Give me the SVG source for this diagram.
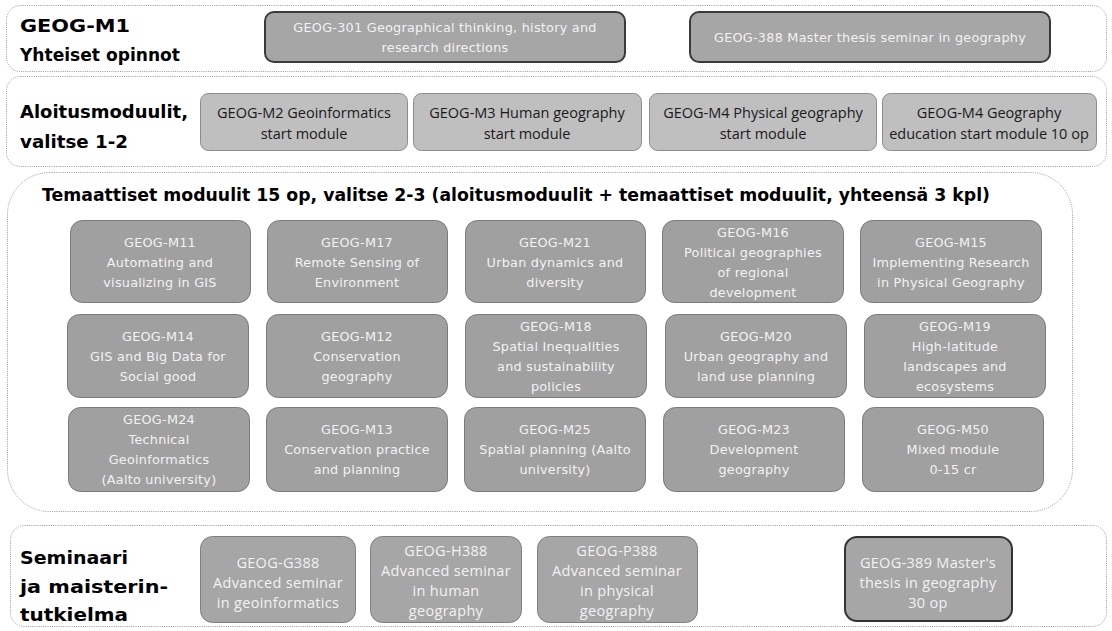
<svg xmlns="http://www.w3.org/2000/svg" width="1112" height="631" viewBox="0 0 1112 631">
<style>
.sec{fill:none;stroke:#9a9a9a;stroke-width:1;stroke-dasharray:1 1.2}
.title{font-family:"DejaVu Sans",sans-serif;font-weight:bold;font-size:18px;fill:#000}
.top{fill:#a6a6a6;stroke:#3a3a3a;stroke-width:2}
.start{fill:#bfbfbf;stroke:#8c8c8c;stroke-width:1}
.mod{fill:#a0a0a0;stroke:#7a7a7a;stroke-width:1}
.sem{fill:#a6a6a6;stroke:#7f7f7f;stroke-width:1}
.thesis{fill:#a6a6a6;stroke:#333;stroke-width:2}
.tg{font-family:"DejaVu Sans",sans-serif;font-size:12.8px;fill:#f2f2f2;text-anchor:middle;letter-spacing:0.25px}
.tc{font-family:"Open Sans",sans-serif;font-size:14.5px;fill:#1a1a1a;text-anchor:middle}
.tw{font-family:"Open Sans",sans-serif;font-size:14.5px;fill:#f2f2f2;text-anchor:middle;letter-spacing:0.3px}
</style>
<g id="connectors"></g>

<g id="sec-m1">
<rect class="sec" x="6.5" y="5.5" width="1100" height="66" rx="14"/>
<text class="title" x="20" y="32" textLength="110" lengthAdjust="spacingAndGlyphs">GEOG-M1</text>
<text class="title" x="20" y="61" textLength="160" lengthAdjust="spacingAndGlyphs">Yhteiset opinnot</text>
</g>
<g id="geog-301">
<rect class="top" x="265" y="12" width="360" height="50" rx="9"/>
<text class="tg" x="445" y="32">GEOG-301 Geographical thinking, history and</text>
<text class="tg" x="445" y="52">research directions</text>
</g>
<g id="geog-388">
<rect class="top" x="690" y="12" width="360" height="50" rx="9"/>
<text class="tg" x="870" y="42">GEOG-388 Master thesis seminar in geography</text>
</g>

<g id="sec-start">
<rect class="sec" x="6.5" y="76.5" width="1100" height="90" rx="14"/>
<text class="title" x="20" y="118" textLength="168" lengthAdjust="spacingAndGlyphs">Aloitusmoduulit,</text>
<text class="title" x="20" y="148" textLength="108" lengthAdjust="spacingAndGlyphs">valitse 1-2</text>
</g>
<g id="geog-m2">
<rect class="start" x="200.5" y="93.5" width="207" height="57" rx="8"/>
<text class="tc" x="304" y="118">GEOG-M2 Geoinformatics</text>
<text class="tc" x="304" y="139">start module</text>
</g>
<g id="geog-m3">
<rect class="start" x="413.5" y="93.5" width="228" height="57" rx="8"/>
<text class="tc" x="527" y="118">GEOG-M3 Human geography</text>
<text class="tc" x="527" y="139">start module</text>
</g>
<g id="geog-m4-phys">
<rect class="start" x="649.5" y="93.5" width="227" height="57" rx="8"/>
<text class="tc" x="763" y="118">GEOG-M4 Physical geography</text>
<text class="tc" x="763" y="139">start module</text>
</g>
<g id="geog-m4-edu">
<rect class="start" x="882.5" y="93.5" width="214" height="57" rx="8"/>
<text class="tc" x="989" y="118">GEOG-M4 Geography</text>
<text class="tc" x="989" y="139">education start module 10 op</text>
</g>

<g id="sec-theme">
<rect class="sec" x="7.5" y="172.5" width="1065" height="339" rx="42"/>
<text class="title" x="42" y="201" textLength="948" lengthAdjust="spacingAndGlyphs">Temaattiset moduulit 15 op, valitse 2-3 (aloitusmoduulit + temaattiset moduulit, yhteensä 3 kpl)</text>
</g>

<g id="geog-m11"><rect class="mod" x="70.5" y="220.5" width="180" height="82" rx="12"/>
<text class="tg" x="160" y="247">GEOG-M11</text><text class="tg" x="160" y="267">Automating and</text><text class="tg" x="160" y="287">visualizing in GIS</text></g>
<g id="geog-m17"><rect class="mod" x="267.5" y="220.5" width="180" height="82" rx="12"/>
<text class="tg" x="357" y="247">GEOG-M17</text><text class="tg" x="357" y="267">Remote Sensing of</text><text class="tg" x="357" y="287">Environment</text></g>
<g id="geog-m21"><rect class="mod" x="465.5" y="220.5" width="180" height="82" rx="12"/>
<text class="tg" x="555" y="247">GEOG-M21</text><text class="tg" x="555" y="267">Urban dynamics and</text><text class="tg" x="555" y="287">diversity</text></g>
<g id="geog-m16"><rect class="mod" x="662.5" y="220.5" width="181" height="82" rx="12"/>
<text class="tg" x="753" y="237">GEOG-M16</text><text class="tg" x="753" y="257">Political geographies</text><text class="tg" x="753" y="277">of regional</text><text class="tg" x="753" y="297">development</text></g>
<g id="geog-m15"><rect class="mod" x="860.5" y="220.5" width="181" height="82" rx="12"/>
<text class="tg" x="951" y="247">GEOG-M15</text><text class="tg" x="951" y="267">Implementing Research</text><text class="tg" x="951" y="287">in Physical Geography</text></g>

<g id="geog-m14"><rect class="mod" x="67.5" y="314.5" width="181" height="83" rx="12"/>
<text class="tg" x="158" y="341">GEOG-M14</text><text class="tg" x="158" y="361">GIS and Big Data for</text><text class="tg" x="158" y="381">Social good</text></g>
<g id="geog-m12"><rect class="mod" x="266.5" y="314.5" width="181" height="83" rx="12"/>
<text class="tg" x="357" y="341">GEOG-M12</text><text class="tg" x="357" y="361">Conservation</text><text class="tg" x="357" y="381">geography</text></g>
<g id="geog-m18"><rect class="mod" x="465.5" y="314.5" width="181" height="83" rx="12"/>
<text class="tg" x="556" y="331">GEOG-M18</text><text class="tg" x="556" y="351">Spatial Inequalities</text><text class="tg" x="556" y="371">and sustainability</text><text class="tg" x="556" y="391">policies</text></g>
<g id="geog-m20"><rect class="mod" x="665.5" y="314.5" width="181" height="83" rx="12"/>
<text class="tg" x="756" y="341">GEOG-M20</text><text class="tg" x="756" y="361">Urban geography and</text><text class="tg" x="756" y="381">land use planning</text></g>
<g id="geog-m19"><rect class="mod" x="864.5" y="314.5" width="181" height="83" rx="12"/>
<text class="tg" x="955" y="331">GEOG-M19</text><text class="tg" x="955" y="351">High-latitude</text><text class="tg" x="955" y="371">landscapes and</text><text class="tg" x="955" y="391">ecosystems</text></g>

<g id="geog-m24"><rect class="mod" x="68.5" y="407.5" width="181" height="84" rx="12"/>
<text class="tg" x="159" y="424">GEOG-M24</text><text class="tg" x="159" y="444">Technical</text><text class="tg" x="159" y="464">Geoinformatics</text><text class="tg" x="159" y="484">(Aalto university)</text></g>
<g id="geog-m13"><rect class="mod" x="266.5" y="407.5" width="181" height="84" rx="12"/>
<text class="tg" x="357" y="434">GEOG-M13</text><text class="tg" x="357" y="454">Conservation practice</text><text class="tg" x="357" y="474">and planning</text></g>
<g id="geog-m25"><rect class="mod" x="464.5" y="407.5" width="181" height="84" rx="12"/>
<text class="tg" x="555" y="434">GEOG-M25</text><text class="tg" x="555" y="454">Spatial planning (Aalto</text><text class="tg" x="555" y="474">university)</text></g>
<g id="geog-m23"><rect class="mod" x="663.5" y="407.5" width="181" height="84" rx="12"/>
<text class="tg" x="754" y="434">GEOG-M23</text><text class="tg" x="754" y="454">Development</text><text class="tg" x="754" y="474">geography</text></g>
<g id="geog-m50"><rect class="mod" x="862.5" y="407.5" width="181" height="84" rx="12"/>
<text class="tg" x="953" y="434">GEOG-M50</text><text class="tg" x="953" y="454">Mixed module</text><text class="tg" x="953" y="474">0-15 cr</text></g>

<g id="sec-seminar">
<rect class="sec" x="10.5" y="525.5" width="1096" height="101" rx="14"/>
<text class="title" x="20" y="564" textLength="108" lengthAdjust="spacingAndGlyphs">Seminaari</text>
<text class="title" x="20" y="593" textLength="148" lengthAdjust="spacingAndGlyphs">ja maisterin-</text>
<text class="title" x="20" y="621" textLength="108" lengthAdjust="spacingAndGlyphs">tutkielma</text>
</g>
<g id="geog-g388"><rect class="sem" x="200.5" y="536.5" width="155" height="86" rx="12"/>
<text class="tw" x="278" y="568">GEOG-G388</text><text class="tw" x="278" y="588">Advanced seminar</text><text class="tw" x="278" y="608">in geoinformatics</text></g>
<g id="geog-h388"><rect class="sem" x="370.5" y="536.5" width="151" height="86" rx="12"/>
<text class="tw" x="446" y="556">GEOG-H388</text><text class="tw" x="446" y="576">Advanced seminar</text><text class="tw" x="446" y="596">in human</text><text class="tw" x="446" y="616">geography</text></g>
<g id="geog-p388"><rect class="sem" x="537.5" y="536.5" width="160" height="86" rx="12"/>
<text class="tw" x="617" y="556">GEOG-P388</text><text class="tw" x="617" y="576">Advanced seminar</text><text class="tw" x="617" y="596">in physical</text><text class="tw" x="617" y="616">geography</text></g>
<g id="geog-389"><rect class="thesis" x="845" y="537" width="167" height="84" rx="12"/>
<text class="tw" x="928" y="568">GEOG-389 Master's</text><text class="tw" x="928" y="588">thesis in geography</text><text class="tw" x="928" y="608">30 op</text></g>
</svg>
